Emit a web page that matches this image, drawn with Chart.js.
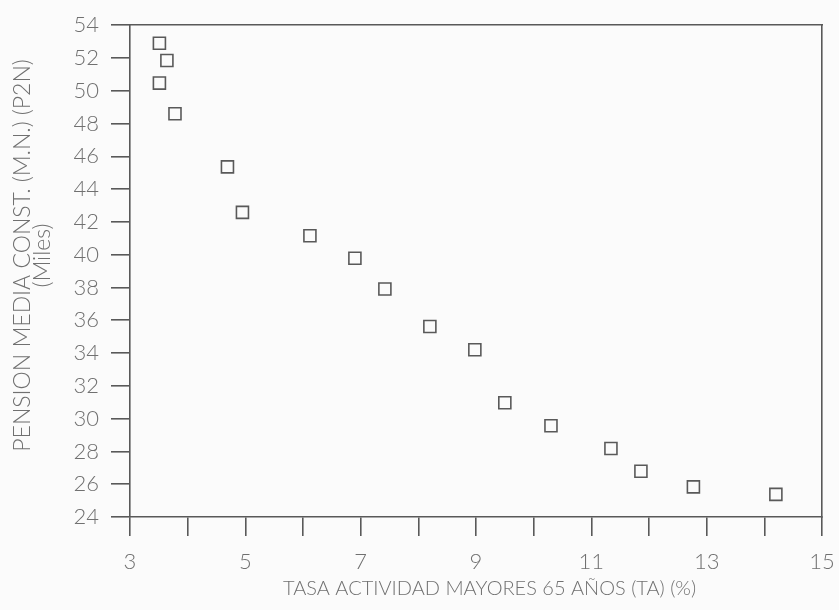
<!DOCTYPE html>
<html>
<head>
<meta charset="utf-8">
<script src="https://cdn.jsdelivr.net/npm/chart.js@4"></script>
<style>
    html, body { margin: 0; padding: 0; background: #fbfbfb; }
    #wrap { width: 839px; height: 610px; position: relative; }
</style>
</head>
<body>
<div id="wrap"><canvas id="myChart"></canvas></div>
<script>
    // tasa actividad mayores 65 (%) vs pension media (miles)
    const tasaActividad = [3.51, 3.64, 3.51, 3.78, 4.69, 4.95, 6.12, 6.90, 7.42, 8.20, 8.98, 9.50, 10.30, 11.34, 11.86, 12.77, 14.20];
    const pensionMedia = [52.9, 51.85, 50.47, 48.6, 45.36, 42.58, 41.16, 39.78, 37.91, 35.62, 34.2, 30.97, 29.57, 28.18, 26.79, 25.84, 25.38];
    const xLabels = [3, 5, 7, 9, 11, 13, 15];
    const yLabels = [24, 26, 28, 30, 32, 34, 36, 38, 40, 42, 44, 46, 48, 50, 52, 54];

    const lineColor = '#595959';
    const textColor = '#707070';
    const fontFamily = 'Lato, "Open Sans", "DejaVu Sans", sans-serif';

    const points = tasaActividad.map(function (x, i) {
        return { x: x, y: pensionMedia[i] };
    });

    function fixWidth(w) {
        return function (scale) { scale.width = w; };
    }
    function fixHeight(h) {
        return function (scale) { scale.height = h; };
    }

    const ctx = document.getElementById('myChart');
    new Chart(ctx, {
        type: 'scatter',
        data: {
            datasets: [{
                label: 'Pension',
                data: points,
                pointStyle: 'rect',
                pointRadius: 8.5,
                pointHoverRadius: 8.5,
                pointBorderWidth: 1.6,
                borderColor: lineColor,
                backgroundColor: 'rgba(0,0,0,0)'
            }]
        },
        options: {
            responsive: true,
            maintainAspectRatio: false,
            animation: false,
            layout: { padding: 0 },
            plugins: {
                legend: { display: false },
                tooltip: { enabled: false }
            },
            scales: {
                x: {
                    type: 'linear',
                    position: 'bottom',
                    min: 3,
                    max: 15,
                    afterFit: fixHeight(93),
                    border: { display: true, color: lineColor, width: 1.6 },
                    grid: {
                        drawOnChartArea: false,
                        drawTicks: true,
                        tickLength: 19,
                        color: lineColor,
                        lineWidth: 1.6
                    },
                    ticks: {
                        stepSize: 1,
                        autoSkip: false,
                        maxRotation: 0,
                        // small padding so the last label doesn't shrink the plot; lineHeight pushes labels down
                        padding: 4,
                        color: textColor,
                        font: { family: fontFamily, size: 22, weight: 300, lineHeight: 2.02 },
                        callback: function (v) {
                            return xLabels.indexOf(v) >= 0 ? String(v) : '';
                        }
                    },
                    title: {
                        display: true,
                        text: '     TASA ACTIVIDAD MAYORES 65 AÑOS (TA) (%)',
                        color: textColor,
                        font: { family: fontFamily, size: 20, weight: 300 },
                        padding: { top: 0, bottom: 9 }
                    }
                },
                x2: {
                    type: 'linear',
                    position: 'top',
                    min: 3,
                    max: 15,
                    afterFit: fixHeight(24),
                    border: { display: true, color: lineColor, width: 1.6 },
                    grid: { display: false },
                    ticks: { display: false }
                },
                y: {
                    type: 'linear',
                    position: 'left',
                    min: 24,
                    max: 54,
                    afterFit: fixWidth(130),
                    border: { display: true, color: lineColor, width: 1.6 },
                    grid: {
                        drawOnChartArea: false,
                        drawTicks: true,
                        tickLength: 19,
                        color: lineColor,
                        lineWidth: 1.6
                    },
                    ticks: {
                        stepSize: 2,
                        autoSkip: false,
                        padding: 12,
                        color: textColor,
                        font: { family: fontFamily, size: 22, weight: 300 },
                        callback: function (v) {
                            return yLabels.indexOf(v) >= 0 ? String(v) : '';
                        }
                    },
                    title: {
                        display: true,
                        text: ['     PENSION MEDIA CONST. (M.N.) (P2N)', '     (Miles)'],
                        color: textColor,
                        font: { family: fontFamily, size: 23, weight: 300, lineHeight: 0.88 },
                        padding: { top: 12, bottom: 0 }
                    }
                },
                y2: {
                    type: 'linear',
                    position: 'right',
                    min: 24,
                    max: 54,
                    afterFit: fixWidth(17),
                    border: { display: true, color: lineColor, width: 1.6 },
                    grid: { display: false },
                    ticks: { display: false }
                }
            }
        }
    });
</script>
</body>
</html>
